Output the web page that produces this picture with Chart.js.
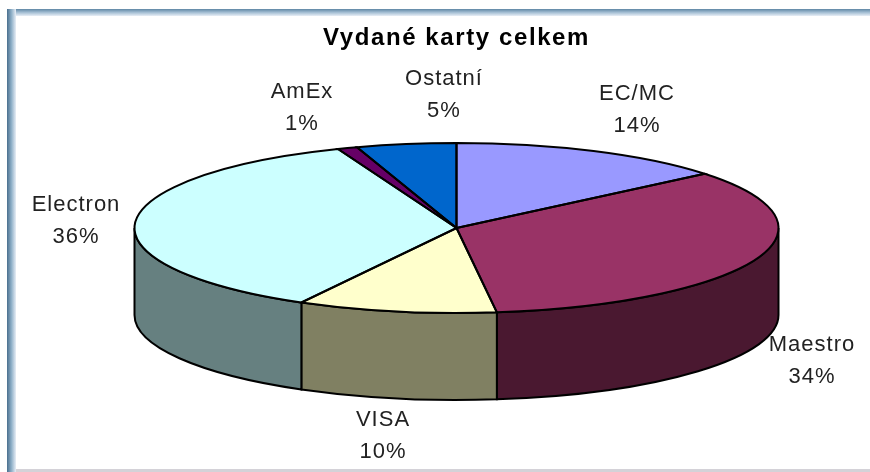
<!DOCTYPE html>
<html>
<head>
<meta charset="utf-8">
<title>Vydané karty celkem</title>
<script src="https://cdn.jsdelivr.net/npm/chart.js@4"></script>
<style>
    html, body { margin: 0; padding: 0; background: #fff; }
    #box { position: relative; width: 870px; height: 472px; overflow: hidden; }
    #graf { position: absolute; left: 0; top: 0; }
    .ram { position: absolute; }
    #ramTop { left: 7px; right: 0; top: 9px; height: 7px; background: linear-gradient(to bottom, #5f87a5, #a5bfd4, #e8eef6); }
    #ramLeft { left: 7px; top: 9px; bottom: 0; width: 9px; background: linear-gradient(to right, #4a6f8e, #8fb0c8, #e8eef6); }
    #ramBottom { left: 16px; right: 0; bottom: 0; height: 3px; background: #d4d2d8; }
</style>
</head>
<body>
<div id="box">
    <canvas id="graf" width="870" height="472"></canvas>
    <div class="ram" id="ramTop"></div>
    <div class="ram" id="ramLeft"></div>
    <div class="ram" id="ramBottom"></div>
</div>
<script>
const categories = ['EC/MC', 'Maestro', 'VISA', 'Electron', 'AmEx', 'Ostatní'];
const values = [14, 34, 10, 36, 1, 5];
const topColors = ['#9999ff', '#993366', '#ffffcc', '#ccffff', '#660066', '#0066cc'];
const sideColors = ['#4d4d80', '#4a1830', '#808062', '#668080', '#330033', '#003366'];

// where the two rows of each label sit
const labelX = [637, 812, 383, 76, 302, 444];
const labelY = [94, 345, 420, 205, 92, 79];

const squash = 85 / 322;
const depth = 87;

const pie3d = {
    id: 'pie3d',
    beforeDraw(chart) {
        // title is drawn with the same wide spacing as the original
        chart.ctx.letterSpacing = '1.6px';
    },
    beforeDatasetDraw(chart, args) {
        const c = chart.ctx;
        c.letterSpacing = '0px';
        const arcs = args.meta.data;
        arcs.forEach((arc, i) => {
            const a = Math.max(arc.startAngle, 0);
            const b = Math.min(arc.endAngle, Math.PI);
            if (a >= b) return;
            const ry = arc.outerRadius * squash;
            c.beginPath();
            c.ellipse(arc.x, arc.y, arc.outerRadius, ry, 0, a, b);
            c.ellipse(arc.x, arc.y + depth, arc.outerRadius, ry, 0, b, a, true);
            c.closePath();
            c.fillStyle = sideColors[i];
            c.fill();
            c.lineWidth = 2;
            c.strokeStyle = '#000';
            c.stroke();
        });
        const first = arcs[0];
        c.save();
        c.translate(first.x, first.y);
        c.scale(1, squash);
        c.translate(-first.x, -first.y);
    },
    afterDatasetDraw(chart, args) {
        const c = chart.ctx;
        c.restore();
        args.meta.data.forEach((arc) => {
            c.beginPath();
            c.moveTo(arc.x, arc.y);
            c.ellipse(arc.x, arc.y, arc.outerRadius, arc.outerRadius * squash, 0, arc.startAngle, arc.endAngle);
            c.closePath();
            c.lineWidth = 2;
            c.strokeStyle = '#000';
            c.stroke();
        });
    },
    afterDraw(chart) {
        const c = chart.ctx;
        c.save();
        c.font = '22px "Liberation Sans", Arial, sans-serif';
        c.letterSpacing = '1px';
        c.fillStyle = '#222';
        c.textAlign = 'center';
        c.textBaseline = 'middle';
        categories.forEach((name, i) => {
            c.fillText(name, labelX[i], labelY[i]);
            c.fillText(values[i] + '%', labelX[i], labelY[i] + 32);
        });
        c.restore();
    }
};

new Chart(document.getElementById('graf'), {
    type: 'pie',
    data: {
        labels: categories,
        datasets: [{
            data: values,
            backgroundColor: topColors,
            borderWidth: 0,
            radius: 322
        }]
    },
    options: {
        responsive: false,
        animation: false,
        layout: { padding: { left: 43, right: 0, top: 24, bottom: 66 } },
        plugins: {
            legend: { display: false },
            tooltip: { enabled: false },
            title: {
                display: true,
                text: 'Vydané karty celkem',
                color: '#000',
                padding: { top: 2, bottom: 0 },
                font: { family: '"Liberation Sans", Arial, sans-serif', size: 24, weight: 'bold', lineHeight: 1 }
            }
        }
    },
    plugins: [pie3d]
});
</script>
</body>
</html>
